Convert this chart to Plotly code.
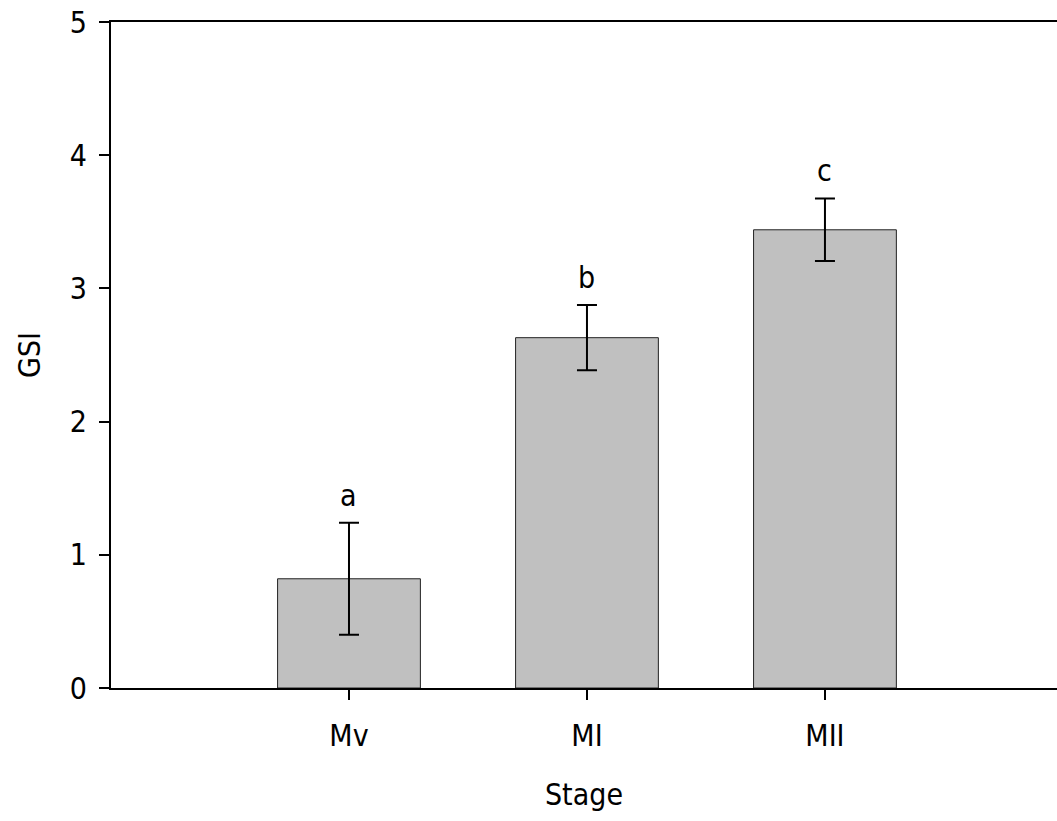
import plotly.graph_objects as go

# GSI by oocyte maturation stage (mean ± SE) with significance letters
stages = ["Mv", "MI", "MII"]
gsi_mean = [0.82, 2.63, 3.44]
gsi_err = [0.42, 0.245, 0.235]
sig_letters = ["a", "b", "c"]

FONT = "DejaVu Sans Condensed, DejaVu Sans, sans-serif"
SIZE = 30
txt = dict(family=FONT, size=SIZE, color="black")

fig = go.Figure()
fig.add_trace(go.Bar(
    x=stages,
    y=gsi_mean,
    width=0.6,
    marker=dict(color="#c0c0c0", line=dict(color="#222222", width=1)),
    error_y=dict(type="data", array=gsi_err, visible=True,
                 color="black", thickness=2, width=10),
    showlegend=False,
))

for s, m, e, lab in zip(stages, gsi_mean, gsi_err, sig_letters):
    fig.add_annotation(x=s, y=m + e, text=lab, showarrow=False,
                       yanchor="bottom", yshift=8, font=txt)

fig.update_layout(
    width=1057, height=821,
    margin=dict(l=111, r=0, t=22, b=133),
    paper_bgcolor="white", plot_bgcolor="white",
    font=txt,
    xaxis=dict(
        type="category", range=[-1, 2.975],
        showline=True, linecolor="black", linewidth=2, mirror=True,
        ticks="outside", ticklen=10, tickwidth=1.5, tickcolor="black",
        showgrid=False, zeroline=False,
        tickfont=txt,
        title=dict(text="Stage", standoff=32, font=txt),
        ticklabelstandoff=10,
    ),
    yaxis=dict(
        range=[0, 5], dtick=1, tick0=0,
        showline=True, linecolor="black", linewidth=2,
        ticks="outside", ticklen=10, tickwidth=1.5, tickcolor="black",
        showgrid=False, zeroline=False,
        tickfont=txt,
        title=dict(text="GSI", standoff=20, font=txt),
        ticklabelstandoff=6,
    ),
)

fig.write_html("out.html")
